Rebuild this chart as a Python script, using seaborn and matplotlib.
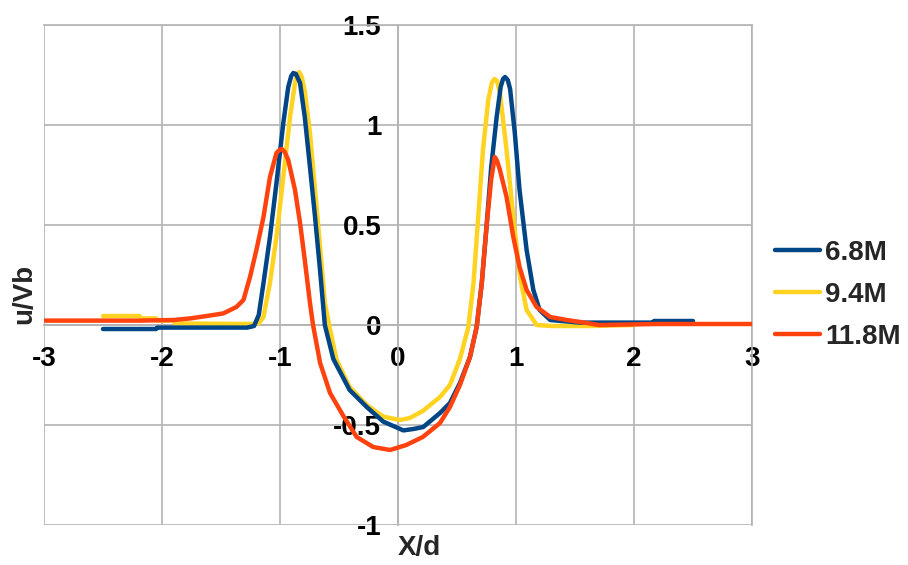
import matplotlib
matplotlib.use("Agg")
import matplotlib.pyplot as plt
import pandas as pd
import seaborn as sns

series_names = ["6.8M", "9.4M", "11.8M"]

x_68 = [-2.5, -2.05, -2.04, -1.28, -1.22, -1.18, -1.14, -1.085, -1.03, -0.972, -0.93, -0.905, -0.887,
        -0.865, -0.83, -0.79, -0.746, -0.703, -0.66, -0.62, -0.548, -0.41, -0.265, -0.125, 0.045, 0.13,
        0.214, 0.356, 0.44, 0.525, 0.61, 0.667, 0.71, 0.75, 0.79, 0.836, 0.87, 0.89, 0.907, 0.93, 0.95,
        0.99, 1.03, 1.09, 1.147, 1.2, 1.29, 1.54, 2.16, 2.17, 2.5]
y_68 = [-0.02, -0.02, -0.013, -0.013, -0.005, 0.05, 0.21, 0.44, 0.71, 1.01, 1.19, 1.245, 1.26,
        1.255, 1.21, 1.04, 0.79, 0.54, 0.27, 0.0, -0.17, -0.325, -0.41, -0.483, -0.527, -0.52,
        -0.51, -0.44, -0.39, -0.29, -0.16, -0.008, 0.21, 0.49, 0.79, 1.04, 1.19, 1.23, 1.24, 1.225, 1.18,
        0.96, 0.675, 0.375, 0.175, 0.075, 0.025, 0.012, 0.012, 0.02, 0.02]

x_94 = [-2.5, -2.19, -2.18, -2.05, -2.04, -1.9, -1.89, -1.25, -1.18, -1.14, -1.085, -1.03, -0.972,
        -0.915, -0.873, -0.855, -0.838, -0.815, -0.79, -0.746, -0.703, -0.66, -0.62, -0.58, -0.52, -0.41,
        -0.265, -0.125, 0.017, 0.1, 0.21, 0.356, 0.44, 0.525, 0.596, 0.64, 0.68, 0.72, 0.765, 0.795,
        0.816, 0.84, 0.864, 0.92, 0.977, 1.034, 1.09, 1.175, 1.3, 1.63, 2.0]
y_94 = [0.045, 0.045, 0.033, 0.033, 0.022, 0.022, 0.008, 0.005, 0.008, 0.04, 0.21, 0.44, 0.74,
        1.04, 1.21, 1.255, 1.265, 1.24, 1.17, 0.96, 0.675, 0.39, 0.11, -0.01, -0.175, -0.31,
        -0.40, -0.458, -0.475, -0.465, -0.43, -0.36, -0.30, -0.17, -0.01, 0.21, 0.54, 0.875, 1.125, 1.21,
        1.23, 1.22, 1.16, 0.875, 0.54, 0.24, 0.075, 0.0, -0.005, -0.005, 0.0]

x_118 = [-3.0, -2.19, -1.9, -1.76, -1.62, -1.48, -1.37, -1.31, -1.254, -1.2, -1.14, -1.085, -1.03,
         -1.005, -0.985, -0.96, -0.93, -0.873, -0.83, -0.79, -0.746, -0.72, -0.66, -0.576, -0.46,
         -0.35, -0.21, -0.068, 0.07, 0.21, 0.356, 0.44, 0.525, 0.61, 0.667, 0.71, 0.75, 0.79, 0.82,
         0.84, 0.864, 0.92, 0.977, 1.03, 1.09, 1.175, 1.29, 1.43, 1.6, 1.7, 2.2, 3.0]
y_118 = [0.022, 0.022, 0.025, 0.033, 0.045, 0.058, 0.09, 0.125, 0.24, 0.375, 0.54, 0.74, 0.86,
         0.875, 0.88, 0.865, 0.825, 0.675, 0.51, 0.325, 0.11, 0.0, -0.19, -0.34, -0.458,
         -0.56, -0.61, -0.625, -0.60, -0.56, -0.49, -0.41, -0.30, -0.16, -0.01, 0.21, 0.49, 0.73, 0.84,
         0.82, 0.775, 0.64, 0.44, 0.29, 0.175, 0.09, 0.04, 0.025, 0.01, 0.0, 0.005, 0.005]

xticks = [-3, -2, -1, 0, 1, 2, 3]
xtick_labels = ["-3", "-2", "-1", "0", "1", "2", "3"]
yticks = [-1, -0.5, 0, 0.5, 1, 1.5]
ytick_labels = ["-1", "-0.5", "0", "0.5", "1", "1.5"]
x_label = "X/d"
y_label = "u/Vb"

colors = {"6.8M": "#004586", "9.4M": "#ffd320", "11.8M": "#ff420e"}
zorders = {"9.4M": 2, "6.8M": 3, "11.8M": 4}
GRID = "#b3b3b3"

sns.set_style("whitegrid")
plt.rcParams["font.family"] = ["Liberation Sans", "DejaVu Sans"]
plt.rcParams["font.weight"] = "bold"
plt.rcParams["axes.unicode_minus"] = False

fig = plt.figure(figsize=(9.08, 5.65), dpi=100)
ax = fig.add_axes([44 / 908, 40 / 565, 708 / 908, 500 / 565])

data = {"6.8M": (x_68, y_68), "9.4M": (x_94, y_94), "11.8M": (x_118, y_118)}
for name in ["9.4M", "6.8M", "11.8M"]:
    xs, ys = data[name]
    df = pd.DataFrame({"x": xs, "y": ys})
    sns.lineplot(data=df, x="x", y="y", ax=ax, color=colors[name], linewidth=3.2,
                 label=name, estimator=None, sort=False, zorder=zorders[name])
for ln in ax.get_lines():
    ln.set_solid_joinstyle("round")

ax.set_xlim(-3, 3)
ax.set_ylim(-1, 1.5)
ax.set_xticks(xticks)
ax.set_xticklabels(xtick_labels)
ax.set_yticks(yticks)
ax.set_yticklabels(ytick_labels)
ax.grid(True, color=GRID, linewidth=1.2)
for ln in ax.get_xgridlines() + ax.get_ygridlines():
    ln.set_clip_on(False)

for s in ["top", "right", "left", "bottom"]:
    ax.spines[s].set_color(GRID)
    ax.spines[s].set_linewidth(1.2)
    ax.spines[s].set_zorder(1)
ax.spines["left"].set_position(("data", 0))
ax.spines["bottom"].set_position(("data", 0))

ax.tick_params(axis="both", length=0, labelsize=20, colors="black")
ax.tick_params(axis="x", pad=15)
ax.tick_params(axis="y", pad=12)
for lbl in ax.get_xticklabels() + ax.get_yticklabels():
    lbl.set_fontweight("bold")

ax.set_xlabel(x_label, fontsize=20, fontweight="bold")
ax.set_ylabel(y_label, fontsize=20, fontweight="bold")
ax.xaxis.label.set_va("center")
ax.yaxis.label.set_va("center")
ax.xaxis.set_label_coords((419 - 44) / 708, (565 - 548 - 40) / 500)
ax.yaxis.set_label_coords((24 - 44) / 708, (565 - 294 - 40) / 500)

handles, labels = ax.get_legend_handles_labels()
hmap = dict(zip(labels, handles))
leg = ax.legend([hmap[n] for n in series_names], series_names,
                loc="center left", bbox_to_anchor=(775 / 908, (565 - 295) / 565),
                bbox_transform=fig.transFigure, frameon=False, fontsize=20,
                handlelength=1.62, handletextpad=0.18, labelspacing=0.58,
                borderpad=0, borderaxespad=0)
for t in leg.get_texts():
    t.set_fontweight("bold")

fig.savefig("out.png", dpi=100)
